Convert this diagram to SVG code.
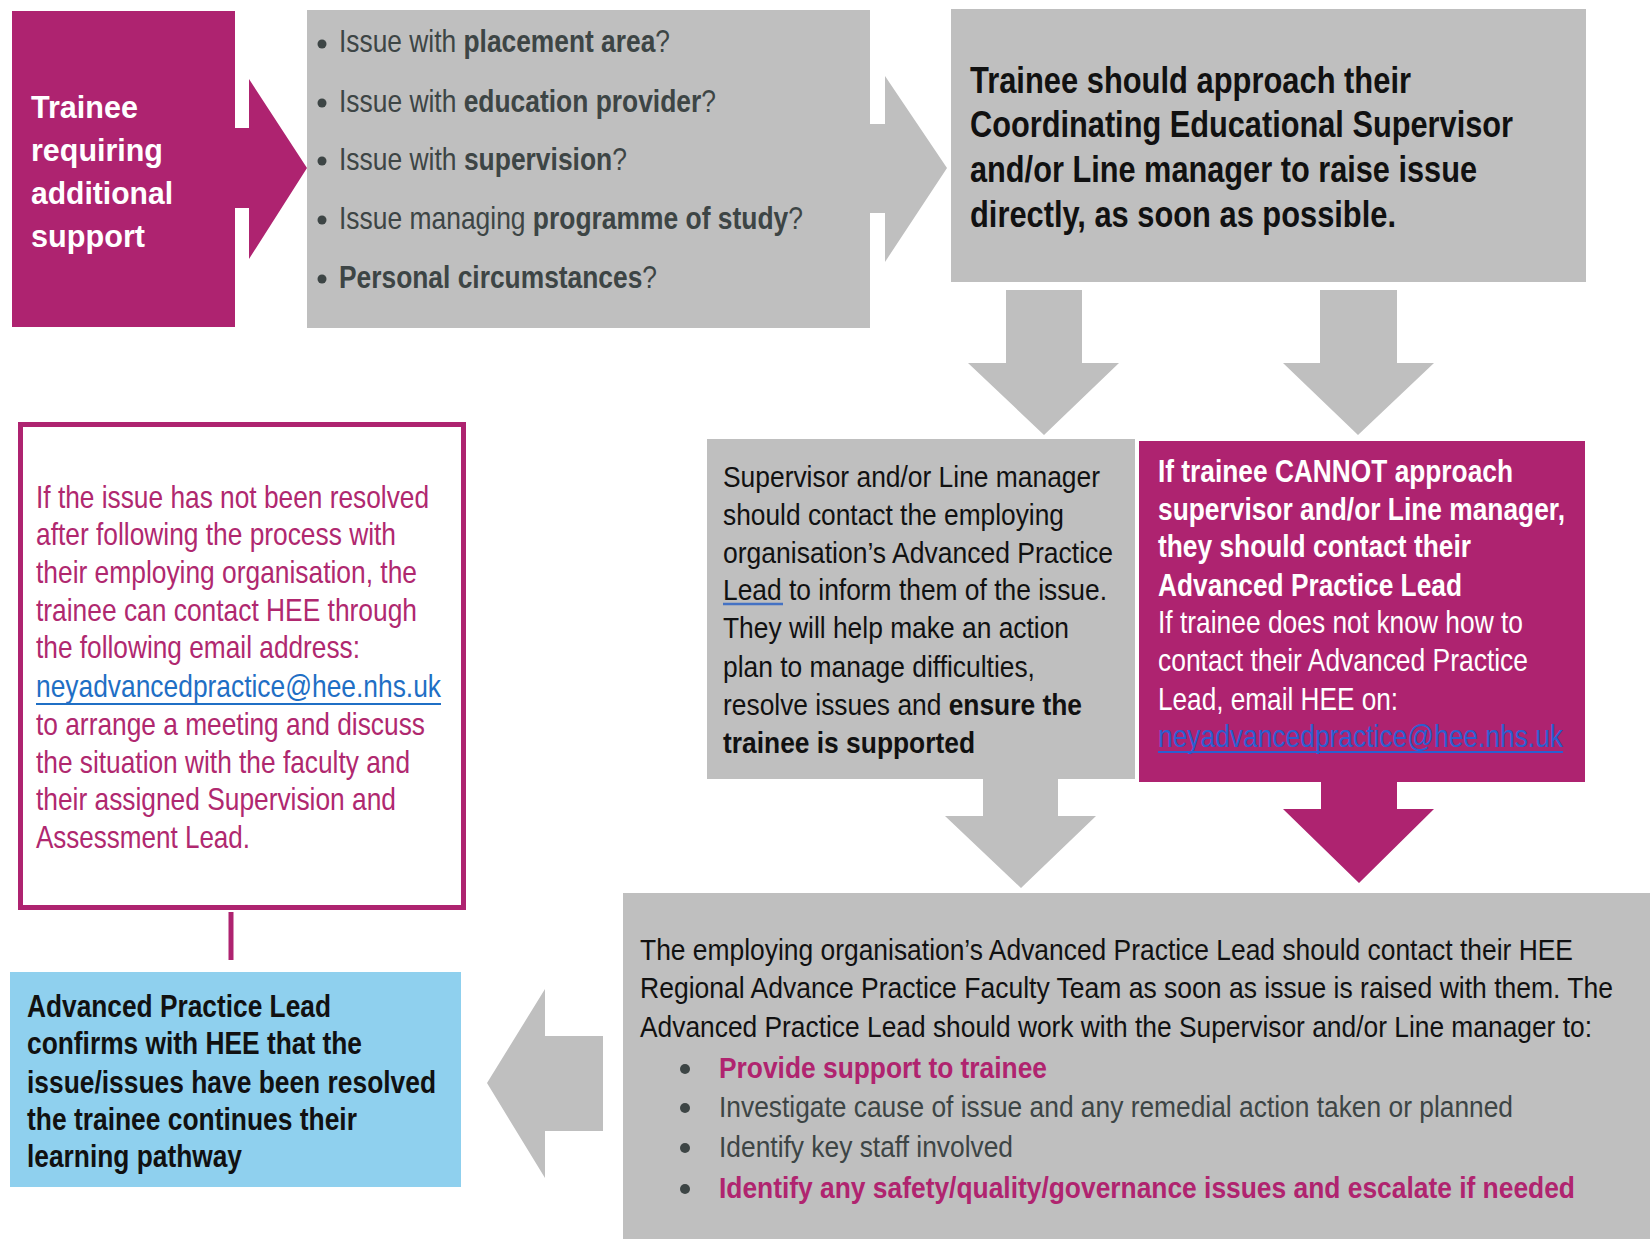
<svg xmlns="http://www.w3.org/2000/svg" width="1650" height="1239" viewBox="0 0 1650 1239">
<style>
text { font-family: "Liberation Sans", Arial, sans-serif; }
.b { font-weight: bold; }
.gray { fill: #bfbfbf; }
.mag { fill: #ae2370; }
.wt { fill: #ffffff; }
.dk { fill: #3d4545; }
.bk { fill: #111111; }
.mt { fill: #b0286f; }
.link { fill: #1f6fc5; }
.link2 { fill: #2b5fd0; }
.pk { fill: #b0246f; font-weight: bold; }
</style>
<rect width="1650" height="1239" fill="#ffffff"/>

<g id="connectors">
  <polygon class="mag" points="234,128 249,128 249,79 307,168 249,259 249,208 234,208"/>
  <polygon class="gray" points="869,124 885,124 885,76 947,168 885,262 885,213 869,213"/>
  <polygon class="gray" points="1006,290 1082,290 1082,363 1119,363 1044,435 968,363 1006,363"/>
  <polygon class="gray" points="1320,290 1397,290 1397,363 1434,363 1358,435 1283,363 1320,363"/>
  <polygon class="gray" points="983,778 1058,778 1058,816 1096,816 1021,888 945,816 983,816"/>
  <polygon class="mag" points="1321,780 1397,780 1397,809 1434,809 1359,883 1283,809 1321,809"/>
  <polygon class="gray" points="603,1036 545,1036 545,989 487,1083 545,1178 545,1131 603,1131"/>
  <line x1="231" y1="912" x2="231" y2="960" stroke="#ae2370" stroke-width="5"/>
</g>

<g id="node-trainee">
  <rect class="mag" x="12" y="11" width="223" height="316"/>
  <g class="wt b" font-size="32" transform="translate(31 0) scale(0.94 1)">
    <text x="0" y="118" textLength="113.8" lengthAdjust="spacingAndGlyphs">Trainee</text>
    <text x="0" y="161" textLength="140.4" lengthAdjust="spacingAndGlyphs">requiring</text>
    <text x="0" y="204" textLength="151.1" lengthAdjust="spacingAndGlyphs">additional</text>
    <text x="0" y="247" textLength="121.3" lengthAdjust="spacingAndGlyphs">support</text>
  </g>
</g>

<g id="node-issues">
  <rect class="gray" x="307" y="10" width="563" height="318"/>
  <g class="dk">
    <circle cx="322" cy="44" r="4.5"/>
    <circle cx="322" cy="103" r="4.5"/>
    <circle cx="322" cy="161" r="4.5"/>
    <circle cx="322" cy="220" r="4.5"/>
    <circle cx="322" cy="279" r="4.5"/>
  </g>
  <g class="dk" font-size="31" transform="translate(339 0) scale(0.85 1)">
    <text x="0" y="52" textLength="389.4" lengthAdjust="spacingAndGlyphs">Issue with <tspan class="b">placement area</tspan>?</text>
    <text x="0" y="112" textLength="443.5" lengthAdjust="spacingAndGlyphs">Issue with <tspan class="b">education provider</tspan>?</text>
    <text x="0" y="170" textLength="338.8" lengthAdjust="spacingAndGlyphs">Issue with <tspan class="b">supervision</tspan>?</text>
    <text x="0" y="229" textLength="545.9" lengthAdjust="spacingAndGlyphs">Issue managing <tspan class="b">programme of study</tspan>?</text>
    <text x="0" y="288" textLength="374.1" lengthAdjust="spacingAndGlyphs"><tspan class="b">Personal circumstances</tspan>?</text>
  </g>
</g>

<g id="node-approach">
  <rect class="gray" x="951" y="9" width="635" height="273"/>
  <g class="bk b" font-size="36" transform="translate(970 0) scale(0.855 1)">
    <text x="0" y="93" textLength="515.8" lengthAdjust="spacingAndGlyphs">Trainee should approach their</text>
    <text x="0" y="137" textLength="635.1" lengthAdjust="spacingAndGlyphs">Coordinating Educational Supervisor</text>
    <text x="0" y="182" textLength="593" lengthAdjust="spacingAndGlyphs">and/or Line manager to raise issue</text>
    <text x="0" y="227" textLength="498.2" lengthAdjust="spacingAndGlyphs">directly, as soon as possible.</text>
  </g>
</g>

<g id="node-supervisor">
  <rect class="gray" x="707" y="439" width="428" height="340"/>
  <g class="bk" font-size="30" transform="translate(723 0) scale(0.88 1)">
    <text x="0" y="487" textLength="428.4" lengthAdjust="spacingAndGlyphs">Supervisor and/or Line manager</text>
    <text x="0" y="525" textLength="387.5" lengthAdjust="spacingAndGlyphs">should contact the employing</text>
    <text x="0" y="563" textLength="443.2" lengthAdjust="spacingAndGlyphs">organisation’s Advanced Practice</text>
    <text x="0" y="600" textLength="436.4" lengthAdjust="spacingAndGlyphs">Lead to inform them of the issue.</text>
    <text x="0" y="638" textLength="393.2" lengthAdjust="spacingAndGlyphs">They will help make an action</text>
    <text x="0" y="677" textLength="354.5" lengthAdjust="spacingAndGlyphs">plan to manage difficulties,</text>
    <text x="0" y="715" textLength="408" lengthAdjust="spacingAndGlyphs">resolve issues and <tspan class="b">ensure the</tspan></text>
    <text x="0" y="753" class="b" textLength="286.4" lengthAdjust="spacingAndGlyphs">trainee is supported</text>
  </g>
  <line x1="723" y1="604" x2="783" y2="604" stroke="#4472c4" stroke-width="2.5"/>
</g>

<g id="node-cannot">
  <rect class="mag" x="1139" y="441" width="446" height="341"/>
  <g font-size="31" transform="translate(1158 0) scale(0.85 1)">
    <text x="0" y="482" class="wt b" textLength="417.6" lengthAdjust="spacingAndGlyphs">If trainee CANNOT approach</text>
    <text x="0" y="520" class="wt b" textLength="478.8" lengthAdjust="spacingAndGlyphs">supervisor and/or Line manager,</text>
    <text x="0" y="557" class="wt b" textLength="368.2" lengthAdjust="spacingAndGlyphs">they should contact their</text>
    <text x="0" y="596" class="wt b" textLength="357.6" lengthAdjust="spacingAndGlyphs">Advanced Practice Lead</text>
    <text x="0" y="633" class="wt" textLength="429.4" lengthAdjust="spacingAndGlyphs">If trainee does not know how to</text>
    <text x="0" y="671" class="wt" textLength="435.3" lengthAdjust="spacingAndGlyphs">contact their Advanced Practice</text>
    <text x="0" y="710" class="wt" textLength="282.4" lengthAdjust="spacingAndGlyphs">Lead, email HEE on:</text>
    <text x="0" y="747" class="link2" textLength="476.5" lengthAdjust="spacingAndGlyphs">neyadvancedpractice@hee.nhs.uk</text>
  </g>
  <line x1="1158" y1="752" x2="1563" y2="752" stroke="#2b5fd0" stroke-width="2"/>
</g>

<g id="node-escalate-hee">
  <rect x="20.5" y="424.5" width="443" height="483" fill="#ffffff" stroke="#ae2370" stroke-width="5"/>
  <g font-size="31" transform="translate(36 0) scale(0.85 1)">
    <text x="0" y="508" class="mt" textLength="462.4" lengthAdjust="spacingAndGlyphs">If the issue has not been resolved</text>
    <text x="0" y="545" class="mt" textLength="423.5" lengthAdjust="spacingAndGlyphs">after following the process with</text>
    <text x="0" y="583" class="mt" textLength="448.2" lengthAdjust="spacingAndGlyphs">their employing organisation, the</text>
    <text x="0" y="621" class="mt" textLength="448.2" lengthAdjust="spacingAndGlyphs">trainee can contact HEE through</text>
    <text x="0" y="658" class="mt" textLength="381.2" lengthAdjust="spacingAndGlyphs">the following email address:</text>
    <text x="0" y="697" class="link" textLength="476.5" lengthAdjust="spacingAndGlyphs">neyadvancedpractice@hee.nhs.uk</text>
    <text x="0" y="735" class="mt" textLength="457.6" lengthAdjust="spacingAndGlyphs">to arrange a meeting and discuss</text>
    <text x="0" y="773" class="mt" textLength="440" lengthAdjust="spacingAndGlyphs">the situation with the faculty and</text>
    <text x="0" y="810" class="mt" textLength="423.5" lengthAdjust="spacingAndGlyphs">their assigned Supervision and</text>
    <text x="0" y="848" class="mt" textLength="251.8" lengthAdjust="spacingAndGlyphs">Assessment Lead.</text>
  </g>
  <line x1="36" y1="704" x2="441" y2="704" stroke="#1f6fc5" stroke-width="2"/>
</g>

<g id="node-resolved">
  <rect x="10" y="972" width="451" height="215" fill="#8fd0ee"/>
  <g class="bk b" font-size="31" transform="translate(27 0) scale(0.85 1)">
    <text x="0" y="1017" textLength="357.6" lengthAdjust="spacingAndGlyphs">Advanced Practice Lead</text>
    <text x="0" y="1054" textLength="394.1" lengthAdjust="spacingAndGlyphs">confirms with HEE that the</text>
    <text x="0" y="1093" textLength="481.2" lengthAdjust="spacingAndGlyphs">issue/issues have been resolved</text>
    <text x="0" y="1130" textLength="388.2" lengthAdjust="spacingAndGlyphs">the trainee continues their</text>
    <text x="0" y="1167" textLength="252.9" lengthAdjust="spacingAndGlyphs">learning pathway</text>
  </g>
</g>

<g id="node-apl-contact">
  <rect class="gray" x="623" y="893" width="1027" height="346"/>
  <g class="bk" font-size="30" transform="translate(640 0) scale(0.88 1)">
    <text x="0" y="960" textLength="1060.2" lengthAdjust="spacingAndGlyphs">The employing organisation’s Advanced Practice Lead should contact their HEE</text>
    <text x="0" y="998" textLength="1105.7" lengthAdjust="spacingAndGlyphs">Regional Advance Practice Faculty Team as soon as issue is raised with them. The</text>
    <text x="0" y="1037" textLength="1081.8" lengthAdjust="spacingAndGlyphs">Advanced Practice Lead should work with the Supervisor and/or Line manager to:</text>
  </g>
  <g class="dk">
    <circle cx="685" cy="1069" r="5"/>
    <circle cx="685" cy="1108" r="5"/>
    <circle cx="685" cy="1148" r="5"/>
    <circle cx="685" cy="1189" r="5"/>
  </g>
  <g font-size="30" transform="translate(719 0) scale(0.86 1)">
    <text x="0" y="1078" class="pk" textLength="381.4" lengthAdjust="spacingAndGlyphs">Provide support to trainee</text>
    <text x="0" y="1117" class="dk" textLength="923.3" lengthAdjust="spacingAndGlyphs">Investigate cause of issue and any remedial action taken or planned</text>
    <text x="0" y="1157" class="dk" textLength="341.9" lengthAdjust="spacingAndGlyphs">Identify key staff involved</text>
    <text x="0" y="1198" class="pk" textLength="995.3" lengthAdjust="spacingAndGlyphs">Identify any safety/quality/governance issues and escalate if needed</text>
  </g>
</g>
</svg>
